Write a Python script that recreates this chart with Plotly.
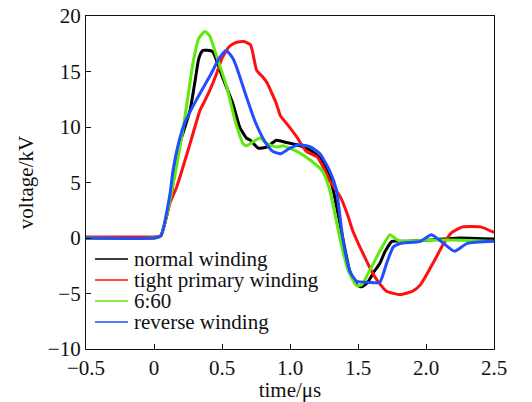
import plotly.graph_objects as go

# normal winding
t_normal = [-0.5, 0.0, 0.05, 0.118, 0.19, 0.265, 0.30, 0.33, 0.36, 0.43, 0.50, 0.58, 0.63, 0.68, 0.71,
            0.765, 0.83, 0.90, 0.976, 1.05, 1.15, 1.22, 1.27, 1.32, 1.38, 1.44, 1.49, 1.527, 1.57,
            1.62, 1.66, 1.70, 1.75, 1.85, 2.0, 2.25, 2.5]
v_normal = [0.0, 0.0, 0.2, 3.4, 8.5, 11.5, 14.0, 16.2, 16.9, 16.8, 14.6, 12.1, 10.0, 9.0, 8.8,
            8.1, 8.2, 8.8, 8.6, 8.4, 7.9, 7.2, 6.3, 4.2, 0.5, -3.0, -4.2, -4.4, -4.0,
            -3.0, -2.3, -1.2, -0.3, -0.3, -0.2, 0.0, -0.1]

# tight primary winding
t_tight = [-0.5, 0.0, 0.05, 0.118, 0.167, 0.265, 0.338, 0.375, 0.41, 0.46, 0.50, 0.55, 0.60, 0.66, 0.71,
           0.755, 0.80, 0.83, 0.90, 0.93, 0.976, 1.05, 1.12, 1.20, 1.26, 1.29, 1.37, 1.42, 1.46, 1.51,
           1.56, 1.60, 1.64, 1.71, 1.81, 1.90, 1.96, 2.05, 2.13, 2.19, 2.27, 2.40, 2.5]
v_tight = [0.1, 0.1, 0.2, 3.2, 4.6, 8.5, 11.5, 12.4, 13.3, 14.8, 16.2, 17.2, 17.6, 17.7, 17.4,
           15.1, 14.5, 14.0, 12.1, 11.0, 10.3, 9.1, 7.8, 7.3, 6.0, 5.2, 3.7, 2.2, 0.7, -0.7,
           -2.0, -3.0, -3.8, -4.8, -5.1, -4.8, -4.2, -2.3, -0.5, 0.5, 1.0, 1.0, 0.5]

# 6:60
t_660 = [-0.5, 0.0, 0.05, 0.118, 0.216, 0.29, 0.33, 0.375, 0.41, 0.46, 0.535, 0.596, 0.655, 0.68, 0.72,
         0.78, 0.83, 0.90, 0.95, 1.05, 1.15, 1.24, 1.29, 1.32, 1.37, 1.43, 1.49, 1.53, 1.57, 1.60,
         1.66, 1.735, 1.78, 1.81, 2.0, 2.27, 2.5]
v_660 = [0.0, 0.0, 0.2, 3.5, 10.0, 16.0, 18.0, 18.6, 18.2, 16.4, 13.6, 10.6, 8.5, 8.3, 8.6,
         9.0, 8.5, 8.2, 8.3, 7.8, 7.0, 6.0, 4.4, 2.8, -0.2, -3.0, -4.3, -4.2, -3.3, -2.6,
         -1.2, 0.3, -0.1, -0.3, -0.2, -0.2, -0.3]

# reverse winding
t_reverse = [-0.5, 0.0, 0.05, 0.118, 0.14, 0.19, 0.23, 0.31, 0.42, 0.48, 0.53, 0.58, 0.61, 0.68, 0.74,
             0.78, 0.82, 0.875, 0.93, 1.0, 1.07, 1.15, 1.22, 1.29, 1.34, 1.39, 1.44, 1.49, 1.58, 1.66,
             1.71, 1.76, 1.81, 1.96, 2.04, 2.13, 2.21, 2.30, 2.5]
v_reverse = [0.0, 0.0, 0.2, 4.0, 6.1, 9.0, 10.5, 12.4, 14.8, 16.2, 16.9, 16.2, 15.3, 12.7, 10.6,
             9.5, 8.6, 7.8, 7.6, 8.1, 8.4, 8.2, 7.6, 6.1, 4.4, -0.2, -3.0, -3.9, -4.0, -4.0,
             -2.3, -0.8, -0.5, -0.3, 0.3, -0.5, -1.2, -0.5, -0.3]

series_names = ["normal winding", "tight primary winding", "6:60", "reverse winding"]
series_t = [t_normal, t_tight, t_660, t_reverse]
series_v = [v_normal, v_tight, v_660, v_reverse]
series_colors = ["#000000", "#ff1010", "#5eea0a", "#1f4fff"]

x_ticks = [-0.5, 0, 0.5, 1.0, 1.5, 2.0, 2.5]
x_labels = ["\u22120.5", "0", "0.5", "1.0", "1.5", "2.0", "2.5"]
y_ticks = [-10, -5, 0, 5, 10, 15, 20]
y_labels = ["\u221210", "\u22125", "0", "5", "10", "15", "20"]

FAMILY = "Liberation Serif"
FS = 21

fig = go.Figure()
for name, t, v, c in zip(series_names, series_t, series_v, series_colors):
    fig.add_trace(go.Scatter(x=t, y=v, mode="lines", name=name, showlegend=False,
                             line=dict(color=c, width=3, shape="spline", smoothing=0.5)))

# legend drawn as compact rows (reference uses tight line spacing)
plot_l, plot_r, plot_t, plot_b = 86, 494, 16, 349
legend_rows_px = [259, 280, 301, 322]
for name, c, py in zip(series_names, series_colors, legend_rows_px):
    yp = (plot_b - py) / (plot_b - plot_t)
    fig.add_shape(type="line", xref="paper", yref="paper",
                  x0=(95 - plot_l) / (plot_r - plot_l), x1=(128 - plot_l) / (plot_r - plot_l),
                  y0=yp, y1=yp, line=dict(color=c, width=1.5))
    fig.add_annotation(xref="paper", yref="paper", x=(133 - plot_l) / (plot_r - plot_l), y=yp,
                       xanchor="left", yanchor="middle", text=name, showarrow=False, borderpad=0,
                       font=dict(family=FAMILY, size=FS, color="#111111"))

font = dict(family=FAMILY, size=FS, color="#111111")
fig.update_layout(
    width=532, height=402,
    margin=dict(l=plot_l, r=532 - plot_r, t=plot_t, b=402 - plot_b),
    paper_bgcolor="white", plot_bgcolor="white",
    font=font,
    showlegend=False,
)
fig.update_xaxes(range=[-0.5, 2.5], tickvals=x_ticks, ticktext=x_labels, automargin=False,
                 showline=True, linecolor="#111111", linewidth=1.2, mirror=True,
                 ticks="inside", ticklen=5, tickcolor="#111111", showgrid=False, zeroline=False,
                 tickfont=dict(family=FAMILY, size=FS),
                 title=dict(text="time/\u03bcs", standoff=4, font=dict(family=FAMILY, size=FS)))
fig.update_yaxes(range=[-10, 20], tickvals=y_ticks, ticktext=y_labels, automargin=False,
                 showline=True, linecolor="#111111", linewidth=1.2, mirror=True,
                 ticks="inside", ticklen=5, tickcolor="#111111", showgrid=False, zeroline=False,
                 tickfont=dict(family=FAMILY, size=FS),
                 title=dict(text="voltage/kV", standoff=8, font=dict(family=FAMILY, size=FS)))

fig.write_html("out.html", config={"displayModeBar": False},
               post_script="document.body.style.margin='0';document.body.style.overflow='hidden';")
